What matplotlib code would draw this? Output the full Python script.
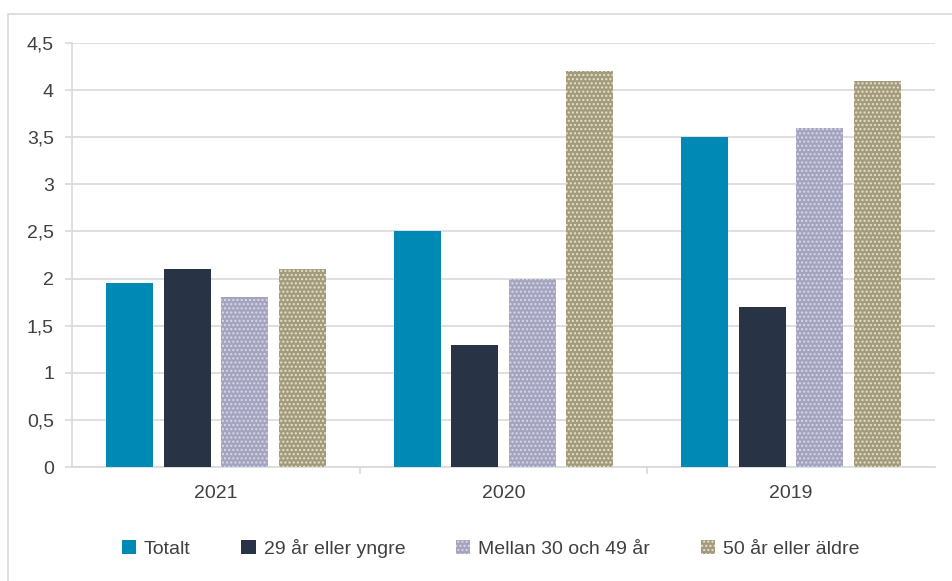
import matplotlib.pyplot as plt
from matplotlib.patches import Rectangle
import numpy as np

years = ["2021", "2020", "2019"]
series = ["Totalt", "29 år eller yngre", "Mellan 30 och 49 år", "50 år eller äldre"]
totalt = [1.95, 2.5, 3.5]
yngre = [2.1, 1.3, 1.7]
mellan = [1.8, 2.0, 3.6]
aldre = [2.1, 4.2, 4.1]
yticks = [0, 0.5, 1, 1.5, 2, 2.5, 3, 3.5, 4, 4.5]

plt.rcParams['font.family'] = ['Liberation Sans', 'DejaVu Sans']
plt.rcParams['hatch.linewidth'] = 1.0

fig = plt.figure(figsize=(9.52, 5.81), dpi=100)
ax = fig.add_axes([72 / 952, 1 - 467 / 581, (935 - 72) / 952, (467 - 43) / 581])

# outer frame of the chart area
fig.patches.append(Rectangle((8 / 952, -0.1), 1.2, 1 - 14 / 581 + 0.1,
                             transform=fig.transFigure, fill=False,
                             edgecolor="#d9d9d9", linewidth=1.2, zorder=0))

x = np.arange(len(years))
width = 0.163
pitch = 0.2
styles = [
    dict(color="#0089b5", hatch=None, edge="#0089b5"),
    dict(color="#283446", hatch=None, edge="#283446"),
    dict(color="#a4a4c0", hatch="....", edge="#d8d8e6"),
    dict(color="#a39b7b", hatch="....", edge="#e6e2cf"),
]
for i, (vals, st) in enumerate(zip([totalt, yngre, mellan, aldre], styles)):
    pos = x + (i - 1.5) * pitch
    bars = ax.bar(pos, vals, width, color=st["color"], label=series[i],
                  zorder=3, linewidth=0)
    if st["hatch"]:
        for b in bars:
            b.set_hatch(st["hatch"])
            b.set_edgecolor(st["edge"])
            b.set_linewidth(0)

ax.set_xlim(-0.5, 2.5)
ax.set_ylim(0, 4.5)
ax.set_yticks(yticks)
ax.set_yticklabels([f"{t:g}".replace(".", ",") for t in yticks])
ax.set_xticks(x)
ax.set_xticklabels(years)
ax.set_xticks([0.5, 1.5], minor=True)
ax.tick_params(axis="x", which="major", length=0, pad=13)
ax.tick_params(axis="x", which="minor", length=5, color="#d9d9d9", width=1.2)
ax.tick_params(axis="y", length=5, color="#d9d9d9", width=1.2, pad=8)
ax.tick_params(labelsize=14, labelcolor="#404040")

ax.grid(axis="y", color="#d9d9d9", linewidth=1.2, zorder=0)
for s in ["top", "right"]:
    ax.spines[s].set_visible(False)
for s in ["left", "bottom"]:
    ax.spines[s].set_color("#d9d9d9")
    ax.spines[s].set_linewidth(1.2)

ax.legend(loc="lower center", bbox_to_anchor=(0.485, -0.255), ncol=4, frameon=False,
          fontsize=14, labelcolor="#404040", handlelength=0.75, handleheight=0.75,
          handletextpad=0.4, columnspacing=2.6)

fig.savefig("out.png", dpi=100)
